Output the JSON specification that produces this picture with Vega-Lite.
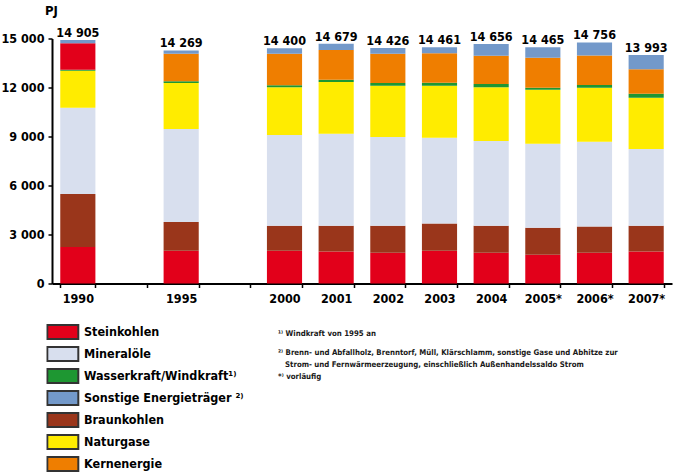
{
  "$schema": "https://vega.github.io/schema/vega-lite/v6.json",
  "width": 620,
  "height": 245,
  "autosize": {"type": "none"},
  "padding": {"left": 52, "top": 38.5, "right": 2, "bottom": 188.5},
  "background": "white",
  "config": {
    "view": {"stroke": null},
    "font": "DejaVu Sans Condensed, sans-serif",
    "locale": {"number": {"decimal": ",", "thousands": " ", "grouping": [3], "currency": ["", " €"]}},
    "axis": {
      "grid": false,
      "domainColor": "#000000",
      "domainWidth": 2,
      "tickColor": "#000000",
      "tickWidth": 1.5,
      "tickSize": 4,
      "labelColor": "#000000",
      "labelFont": "DejaVu Sans Condensed, sans-serif",
      "labelFontWeight": "bold",
      "titleFont": "DejaVu Sans Condensed, sans-serif"
    }
  },
  "title": {
    "text": "¹⁾ Windkraft von 1995 an",
    "subtitle": [
      "²⁾ Brenn- und Abfallholz, Brenntorf, Müll, Klärschlamm,  sonstige Gase und Abhitze zur",
      "\u200b\u2002\u2002Strom- und Fernwärmeerzeugung, einschließlich Außenhandelssaldo Strom",
      "*⁾ vorläufig"
    ],
    "orient": "top",
    "anchor": "start",
    "frame": "group",
    "dx": 226,
    "dy": 380,
    "font": "DejaVu Sans Condensed, sans-serif",
    "subtitleFont": "DejaVu Sans Condensed, sans-serif",
    "fontSize": 7.8,
    "subtitleFontSize": 7.8,
    "fontWeight": "bold",
    "subtitleFontWeight": "bold",
    "subtitleLineHeight": 12,
    "subtitlePadding": 11,
    "color": "#1a1a1a",
    "subtitleColor": "#1a1a1a"
  },
  "data": {
    "values": [
      {"year": "1990", "carrier": "Steinkohlen", "value": 2240},
      {"year": "1990", "carrier": "Braunkohlen", "value": 3240},
      {"year": "1990", "carrier": "Mineralöle", "value": 5280},
      {"year": "1990", "carrier": "Naturgase", "value": 2260},
      {"year": "1990", "carrier": "Wasserkraft/Windkraft", "value": 60},
      {"year": "1990", "carrier": "Kernenergie", "value": 1630},
      {"year": "1990", "carrier": "Sonstige Energieträger", "value": 195},

      {"year": "1995", "carrier": "Steinkohlen", "value": 2000},
      {"year": "1995", "carrier": "Braunkohlen", "value": 1770},
      {"year": "1995", "carrier": "Mineralöle", "value": 5690},
      {"year": "1995", "carrier": "Naturgase", "value": 2810},
      {"year": "1995", "carrier": "Wasserkraft/Windkraft", "value": 120},
      {"year": "1995", "carrier": "Kernenergie", "value": 1670},
      {"year": "1995", "carrier": "Sonstige Energieträger", "value": 209},

      {"year": "2000", "carrier": "Steinkohlen", "value": 2000},
      {"year": "2000", "carrier": "Braunkohlen", "value": 1530},
      {"year": "2000", "carrier": "Mineralöle", "value": 5560},
      {"year": "2000", "carrier": "Naturgase", "value": 2930},
      {"year": "2000", "carrier": "Wasserkraft/Windkraft", "value": 120},
      {"year": "2000", "carrier": "Kernenergie", "value": 1920},
      {"year": "2000", "carrier": "Sonstige Energieträger", "value": 340},

      {"year": "2001", "carrier": "Steinkohlen", "value": 1960},
      {"year": "2001", "carrier": "Braunkohlen", "value": 1570},
      {"year": "2001", "carrier": "Mineralöle", "value": 5640},
      {"year": "2001", "carrier": "Naturgase", "value": 3160},
      {"year": "2001", "carrier": "Wasserkraft/Windkraft", "value": 140},
      {"year": "2001", "carrier": "Kernenergie", "value": 1830},
      {"year": "2001", "carrier": "Sonstige Energieträger", "value": 379},

      {"year": "2002", "carrier": "Steinkohlen", "value": 1880},
      {"year": "2002", "carrier": "Braunkohlen", "value": 1650},
      {"year": "2002", "carrier": "Mineralöle", "value": 5440},
      {"year": "2002", "carrier": "Naturgase", "value": 3140},
      {"year": "2002", "carrier": "Wasserkraft/Windkraft", "value": 170},
      {"year": "2002", "carrier": "Kernenergie", "value": 1780},
      {"year": "2002", "carrier": "Sonstige Energieträger", "value": 366},

      {"year": "2003", "carrier": "Steinkohlen", "value": 2000},
      {"year": "2003", "carrier": "Braunkohlen", "value": 1670},
      {"year": "2003", "carrier": "Mineralöle", "value": 5260},
      {"year": "2003", "carrier": "Naturgase", "value": 3180},
      {"year": "2003", "carrier": "Wasserkraft/Windkraft", "value": 180},
      {"year": "2003", "carrier": "Kernenergie", "value": 1800},
      {"year": "2003", "carrier": "Sonstige Energieträger", "value": 371},

      {"year": "2004", "carrier": "Steinkohlen", "value": 1880},
      {"year": "2004", "carrier": "Braunkohlen", "value": 1650},
      {"year": "2004", "carrier": "Mineralöle", "value": 5190},
      {"year": "2004", "carrier": "Naturgase", "value": 3300},
      {"year": "2004", "carrier": "Wasserkraft/Windkraft", "value": 200},
      {"year": "2004", "carrier": "Kernenergie", "value": 1720},
      {"year": "2004", "carrier": "Sonstige Energieträger", "value": 716},

      {"year": "2005*", "carrier": "Steinkohlen", "value": 1760},
      {"year": "2005*", "carrier": "Braunkohlen", "value": 1650},
      {"year": "2005*", "carrier": "Mineralöle", "value": 5150},
      {"year": "2005*", "carrier": "Naturgase", "value": 3300},
      {"year": "2005*", "carrier": "Wasserkraft/Windkraft", "value": 120},
      {"year": "2005*", "carrier": "Kernenergie", "value": 1840},
      {"year": "2005*", "carrier": "Sonstige Energieträger", "value": 645},

      {"year": "2006*", "carrier": "Steinkohlen", "value": 1880},
      {"year": "2006*", "carrier": "Braunkohlen", "value": 1610},
      {"year": "2006*", "carrier": "Mineralöle", "value": 5190},
      {"year": "2006*", "carrier": "Naturgase", "value": 3300},
      {"year": "2006*", "carrier": "Wasserkraft/Windkraft", "value": 180},
      {"year": "2006*", "carrier": "Kernenergie", "value": 1800},
      {"year": "2006*", "carrier": "Sonstige Energieträger", "value": 796},

      {"year": "2007*", "carrier": "Steinkohlen", "value": 1960},
      {"year": "2007*", "carrier": "Braunkohlen", "value": 1570},
      {"year": "2007*", "carrier": "Mineralöle", "value": 4700},
      {"year": "2007*", "carrier": "Naturgase", "value": 3140},
      {"year": "2007*", "carrier": "Wasserkraft/Windkraft", "value": 250},
      {"year": "2007*", "carrier": "Kernenergie", "value": 1500},
      {"year": "2007*", "carrier": "Sonstige Energieträger", "value": 873}
    ]
  },
  "encoding": {
    "x": {
      "field": "year",
      "type": "nominal",
      "scale": {
        "domain": ["1990", " ", "1995", "  ", "2000", "2001", "2002", "2003", "2004", "2005*", "2006*", "2007*"],
        "paddingInner": 0.32,
        "paddingOuter": 0.16
      },
      "axis": {
        "title": null,
        "labelAngle": 0,
        "tickBand": "extent",
        "labelPadding": 5,
        "labelFontSize": 12.5
      }
    }
  },
  "layer": [
    {
      "transform": [
        {"calculate": "indexof(['Steinkohlen', 'Braunkohlen', 'Mineralöle', 'Naturgase', 'Wasserkraft/Windkraft', 'Kernenergie', 'Sonstige Energieträger'], datum.carrier)", "as": "stackRank"}
      ],
      "mark": {"type": "bar"},
      "encoding": {
        "y": {
          "field": "value",
          "type": "quantitative",
          "stack": "zero",
          "scale": {"domain": [0, 15000], "nice": false},
          "axis": {
            "values": [0, 3000, 6000, 9000, 12000, 15000],
            "format": ",.0f",
            "labelFontSize": 12.5,
            "labelPadding": 4,
            "title": "PJ",
            "titleAngle": 0,
            "titleAlign": "center",
            "titleBaseline": "alphabetic",
            "titleX": -1,
            "titleY": -24,
            "titleFontSize": 13,
            "titleFontWeight": "bold",
            "titleColor": "#000000"
          }
        },
        "order": {"field": "stackRank", "type": "quantitative", "sort": "ascending"},
        "color": {
          "field": "carrier",
          "type": "nominal",
          "condition": {
            "test": "datum.year === '1990' && datum.carrier === 'Kernenergie'",
            "value": "#E2001A"
          },
          "scale": {
            "domain": ["Steinkohlen", "Braunkohlen", "Mineralöle", "Naturgase", "Wasserkraft/Windkraft", "Kernenergie", "Sonstige Energieträger"],
            "range": ["#E2001A", "#9A361B", "#D8DFEE", "#FFEC00", "#1E9732", "#EF7E00", "#7399CA"]
          },
          "legend": {
            "orient": "none",
            "legendX": -5.7,
            "legendY": 282.65,
            "title": null,
            "values": ["Steinkohlen", "Mineralöle", "Wasserkraft/Windkraft", "Sonstige Energieträger", "Braunkohlen", "Naturgase", "Kernenergie"],
            "labelExpr": "datum.label === 'Wasserkraft/Windkraft' ? 'Wasserkraft/Windkraft¹⁾' : datum.label === 'Sonstige Energieträger' ? 'Sonstige Energieträger ²⁾' : datum.label",
            "symbolType": "M-1.034,-0.805H2.529V0.805H-1.034Z",
            "symbolSize": 303,
            "symbolStrokeColor": "#333333",
            "symbolStrokeWidth": 2,
            "symbolOpacity": 1,
            "labelFont": "DejaVu Sans Condensed, sans-serif",
            "labelFontSize": 12.5,
            "labelFontWeight": "bold",
            "labelColor": "#000000",
            "labelOffset": 17.7,
            "labelLimit": 300,
            "clipHeight": 21.7,
            "rowPadding": 0
          }
        }
      }
    },
    {
      "transform": [
        {"aggregate": [{"op": "sum", "field": "value", "as": "total"}], "groupby": ["year"]}
      ],
      "mark": {"type": "text", "baseline": "alphabetic", "dy": -3, "fontSize": 12.5, "fontWeight": "bold", "color": "#000000"},
      "encoding": {
        "y": {
          "field": "total",
          "type": "quantitative",
          "axis": {
            "values": [0, 3000, 6000, 9000, 12000, 15000],
            "format": ",.0f",
            "labelFontSize": 12.5,
            "labelPadding": 4,
            "title": "PJ",
            "titleAngle": 0,
            "titleAlign": "center",
            "titleBaseline": "alphabetic",
            "titleX": -1,
            "titleY": -24,
            "titleFontSize": 13,
            "titleFontWeight": "bold",
            "titleColor": "#000000"
          }
        },
        "text": {"field": "total", "type": "quantitative", "format": ","}
      }
    }
  ]
}
